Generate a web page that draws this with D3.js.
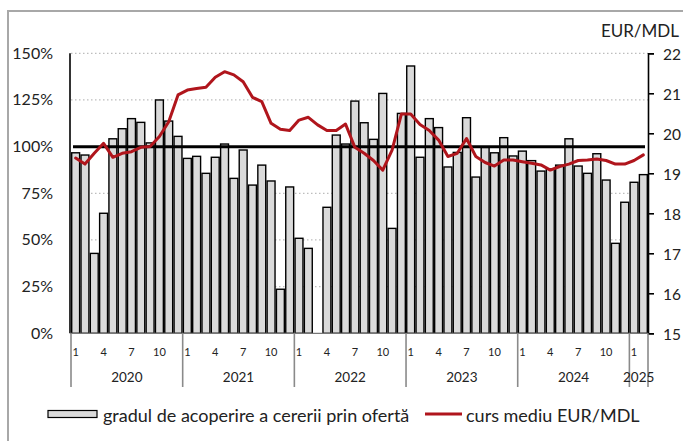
<!doctype html>
<html>
<head>
<meta charset="utf-8">
<title>gradul de acoperire a cererii prin ofertă</title>
<script src="https://cdn.jsdelivr.net/npm/d3@7"></script>
<style>
  body { margin: 0; background: #fff; }
  svg text { font-family: Lato, "Open Sans", sans-serif; fill: #222; }
</style>
</head>
<body>
<svg id="chart" width="683" height="441"></svg>
<script>
// years shown on the axis and how many months of each are in the data
var years = ["2020", "2021", "2022", "2023", "2024", "2025"];
var monthsPerYear = [12, 12, 12, 12, 12, 2];
var monthTicks = [1, 4, 7, 10];

// gradul de acoperire a cererii prin ofertă, %
var coverage = [
  96.7, 95.5, 42.8, 64.3, 104.2, 109.6, 115.0, 113.0, 102.0, 125.0, 113.7, 105.5,
  93.7, 94.8, 85.7, 94.3, 101.4, 83.0, 98.2, 79.4, 90.1, 81.6, 23.6, 78.4,
  50.9, 45.5, null, 67.5, 106.2, 101.4, 124.4, 112.8, 103.9, 128.5, 56.2, 117.8,
  143.2, 94.3, 115.0, 110.2, 89.1, 96.9, 115.5, 83.7, 99.6, 96.7, 104.8, 95.0,
  97.6, 92.5, 86.9, 88.0, 90.1, 104.2, 89.6, 85.7, 96.2, 82.1, 48.2, 70.2,
  80.9, 85.0
];

// curs mediu EUR/MDL
var eurMdl = [
  19.38, 19.23, 19.50, 19.75, 19.40, 19.50, 19.54, 19.65, 19.67, 19.92, 20.29, 20.96,
  21.08, 21.12, 21.15, 21.40, 21.54, 21.46, 21.29, 20.90, 20.79, 20.25, 20.10, 20.07,
  20.33, 20.40, 20.21, 20.07, 20.07, 20.23, 19.65, 19.50, 19.32, 19.08, 19.58, 20.48,
  20.48, 20.22, 20.07, 19.83, 19.42, 19.50, 19.87, 19.42, 19.27, 19.18, 19.33, 19.33,
  19.29, 19.25, 19.21, 19.08, 19.17, 19.23, 19.32, 19.33, 19.36, 19.32, 19.23, 19.23,
  19.32, 19.46
];

var leftTicks = [0, 25, 50, 75, 100, 125, 150];
var rightTicks = [15, 16, 17, 18, 19, 20, 21, 22];

// build the month list: {year, month}
var months = [];
years.forEach(function(y, i) {
  for (var m = 1; m <= monthsPerYear[i]; m++) months.push({ year: y, month: m });
});

var svg = d3.select("#chart");
var plotLeft = 71, plotRight = 648, plotTop = 53.3, plotBottom = 333.3;

var x = d3.scaleBand().domain(d3.range(months.length)).range([plotLeft, plotRight]).padding(0);
var yL = d3.scaleLinear().domain([0, 150]).range([plotBottom, plotTop]);
var yR = d3.scaleLinear().domain([15, 22]).range([plotBottom, plotTop]);
var step = x.bandwidth();

// frame
svg.append("path")
    .attr("d", "M8,441V11H683")
    .attr("fill", "none")
    .attr("stroke", "#a8a8a8")
    .attr("stroke-width", 2);

// dotted grid
svg.append("g").selectAll("line")
  .data(leftTicks.filter(function(d) { return d > 0 && d !== 100; }))
  .enter().append("line")
    .attr("x1", plotLeft).attr("x2", plotRight)
    .attr("y1", function(d) { return yL(d); })
    .attr("y2", function(d) { return yL(d); })
    .attr("stroke", "#bdbdbd")
    .attr("stroke-width", 1.2)
    .attr("stroke-dasharray", "1.5,2.5");

// bars
svg.append("g").selectAll("rect")
  .data(coverage.map(function(v, i) { return { i: i, v: v }; }).filter(function(d) { return d.v != null; }))
  .enter().append("rect")
    .attr("x", function(d) { return x(d.i) + 0.7; })
    .attr("width", step - 1.4)
    .attr("y", function(d) { return yL(d.v); })
    .attr("height", function(d) { return plotBottom - yL(d.v); })
    .attr("fill", "#dadada")
    .attr("stroke", "#000")
    .attr("stroke-width", 1.4);

// 100% reference line
svg.append("line")
    .attr("x1", plotLeft + 2).attr("x2", plotRight - 3)
    .attr("y1", yL(100)).attr("y2", yL(100))
    .attr("stroke", "#000")
    .attr("stroke-width", 3);

// exchange rate line
var line = d3.line()
    .x(function(d, i) { return x(i) + step / 2; })
    .y(function(d) { return yR(d); });

svg.append("path")
    .datum(eurMdl)
    .attr("d", line)
    .attr("fill", "none")
    .attr("stroke", "#b0151c")
    .attr("stroke-width", 3)
    .attr("stroke-linejoin", "round")
    .attr("stroke-linecap", "round");

// left axis
svg.append("line")
    .attr("x1", plotLeft - 1).attr("x2", plotLeft - 1)
    .attr("y1", plotTop).attr("y2", plotBottom)
    .attr("stroke", "#000").attr("stroke-width", 1.6);

svg.append("g").selectAll("text")
  .data(leftTicks)
  .enter().append("text")
    .attr("x", 53)
    .attr("y", function(d) { return yL(d) + 5.5; })
    .attr("text-anchor", "end")
    .attr("font-size", 16)
    .text(function(d) { return d + "%"; });

// right axis
var gR = svg.append("g")
    .attr("transform", "translate(" + plotRight + ",0)")
    .call(d3.axisRight(yR).tickValues(rightTicks).tickFormat(d3.format("d"))
      .tickSize(6).tickPadding(9));
gR.select(".domain").attr("stroke", "#000").attr("stroke-width", 1.6);
gR.selectAll(".tick line").attr("stroke", "#000").attr("stroke-width", 1.6);
gR.selectAll(".tick text")
    .attr("font-size", 15.5)
    .attr("font-family", "Lato, 'Open Sans', sans-serif")
    .attr("fill", "#222")
    .attr("dy", "0.42em");

svg.append("text")
    .attr("x", 679).attr("y", 37)
    .attr("text-anchor", "end")
    .attr("font-size", 17)
    .text("EUR/MDL");

// x axis baseline
svg.append("line")
    .attr("x1", plotLeft - 1).attr("x2", plotRight)
    .attr("y1", plotBottom).attr("y2", plotBottom)
    .attr("stroke", "#777").attr("stroke-width", 1.2);

// year separators
var yearStarts = [];
var acc = 0;
monthsPerYear.forEach(function(n) { yearStarts.push(acc); acc += n; });
var sepX = yearStarts.map(function(i) { return x(i); }).concat([plotRight]);

svg.append("g").selectAll("line")
  .data(sepX)
  .enter().append("line")
    .attr("x1", function(d) { return d; }).attr("x2", function(d) { return d; })
    .attr("y1", plotBottom).attr("y2", 387)
    .attr("stroke", "#8a8a8a")
    .attr("stroke-width", 1.6);

// month labels
svg.append("g").selectAll("text")
  .data(months.map(function(m, i) { return { m: m.month, i: i }; })
    .filter(function(d) { return monthTicks.indexOf(d.m) >= 0; }))
  .enter().append("text")
    .attr("x", function(d) { return x(d.i) + step / 2; })
    .attr("y", 356)
    .attr("text-anchor", "middle")
    .attr("font-size", 11)
    .text(function(d) { return d.m; });

// year labels
svg.append("g").selectAll("text")
  .data(years)
  .enter().append("text")
    .attr("x", function(d, i) { return (sepX[i] + sepX[i + 1]) / 2; })
    .attr("y", 382)
    .attr("text-anchor", "middle")
    .attr("font-size", 13.5)
    .text(function(d) { return d; });

// legend
var lg = svg.append("g");
lg.append("rect")
    .attr("x", 48).attr("y", 410.5)
    .attr("width", 49).attr("height", 7)
    .attr("fill", "#dadada")
    .attr("stroke", "#000")
    .attr("stroke-width", 1.2);
lg.append("text")
    .attr("x", 103).attr("y", 422)
    .attr("font-size", 18)
    .text("gradul de acoperire a cererii prin ofertă");
lg.append("line")
    .attr("x1", 425).attr("x2", 462)
    .attr("y1", 414).attr("y2", 414)
    .attr("stroke", "#b0151c")
    .attr("stroke-width", 3);
lg.append("text")
    .attr("x", 466).attr("y", 422)
    .attr("font-size", 18)
    .text("curs mediu EUR/MDL");
</script>
</body>
</html>
